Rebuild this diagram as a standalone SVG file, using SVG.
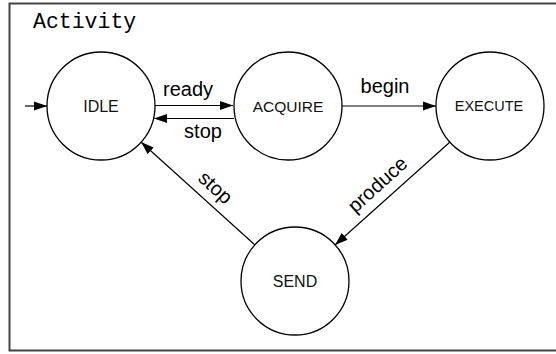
<svg xmlns="http://www.w3.org/2000/svg" width="556" height="354" viewBox="0 0 556 354">
  <style>
    .state { fill: #ffffff; stroke: #000000; stroke-width: 1.3; }
    .name { font-family: "Liberation Sans", Arial, sans-serif; fill: #111111; text-anchor: middle; }
    .edge { stroke: #000000; stroke-width: 1.2; fill: none; marker-end: url(#head); }
    .label { font-family: "Liberation Sans", Arial, sans-serif; font-size: 20px; fill: #000000; text-anchor: middle; }
    .title { font-family: "Liberation Mono", "Courier New", monospace; font-size: 21.5px; fill: #000000; }
  </style>
  <defs>
    <marker id="head" viewBox="0 0 13 10" refX="13" refY="5" markerWidth="13" markerHeight="10" markerUnits="userSpaceOnUse" orient="auto">
      <path d="M0,0.5 L13,5 L0,9.5 Z" fill="#000000"/>
    </marker>
  </defs>

  <!-- activity frame, open on the right -->
  <rect x="9.5" y="3.5" width="560" height="347" fill="#ffffff" stroke="#444444" stroke-width="2"/>
  <text class="title" x="33" y="28">Activity</text>

  <!-- transitions -->
  <g id="connectors">
    <line class="edge" x1="25" y1="106" x2="47" y2="106"/>
    <line class="edge" x1="155" y1="105.5" x2="233" y2="105.5"/>
    <line class="edge" x1="234" y1="118.5" x2="154" y2="118.5"/>
    <line class="edge" x1="342" y1="106" x2="436" y2="106"/>
    <line class="edge" x1="450" y1="142" x2="335" y2="245"/>
    <line class="edge" x1="255" y1="245" x2="141" y2="142"/>
    <text class="label" x="188" y="96">ready</text>
    <text class="label" x="203" y="138">stop</text>
    <text class="label" x="385" y="93">begin</text>
    <text class="label" transform="translate(378 185) rotate(-42)" y="6">produce</text>
    <text class="label" transform="translate(215 188) rotate(42)" y="6">stop</text>
  </g>

  <!-- states -->
  <g id="idle">
    <circle class="state" cx="101" cy="106" r="54"/>
    <text class="name" x="101" y="112" font-size="16">IDLE</text>
  </g>
  <g id="acquire">
    <circle class="state" cx="288" cy="106" r="54"/>
    <text class="name" x="288" y="112" font-size="15.5">ACQUIRE</text>
  </g>
  <g id="execute">
    <circle class="state" cx="490" cy="106" r="54"/>
    <text class="name" x="489" y="111" font-size="14.5">EXECUTE</text>
  </g>
  <g id="send">
    <circle class="state" cx="295" cy="281" r="54"/>
    <text class="name" x="295" y="287" font-size="16">SEND</text>
  </g>
</svg>
